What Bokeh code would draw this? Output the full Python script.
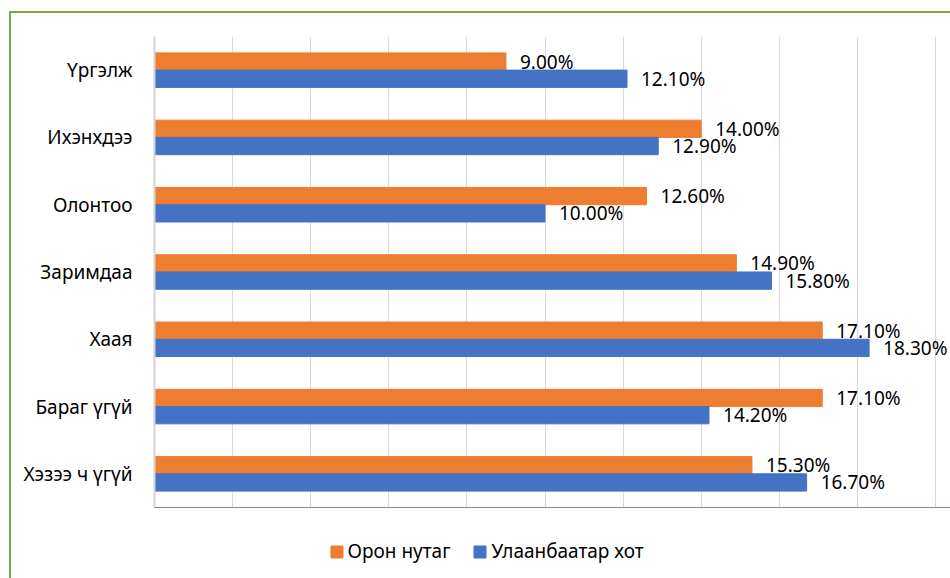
from bokeh.plotting import figure
from bokeh.layouts import column
from bokeh.models import (ColumnDataSource, FactorRange, Range1d, FixedTicker,
                          Legend, LegendItem)
from bokeh.transform import dodge
from bokeh.core.properties import value
from bokeh.embed import file_html
from bokeh.resources import INLINE

categories = ["Үргэлж", "Ихэнхдээ", "Олонтоо", "Заримдаа", "Хаая", "Бараг үгүй", "Хэзээ ч үгүй"]
rural = [9.0, 14.0, 12.6, 14.9, 17.1, 17.1, 15.3]      # Орон нутаг
ub = [12.1, 12.9, 10.0, 15.8, 18.3, 14.2, 16.7]        # Улаанбаатар хот
series_names = ["Орон нутаг", "Улаанбаатар хот"]
x_ticks = [0, 2, 4, 6, 8, 10, 12, 14, 16, 18, 20]

ORANGE = "#ED7D31"
BLUE = "#4472C4"
GREEN = "#70AD47"
FONT = "Noto Sans"
FS = "19px"

src = ColumnDataSource(dict(
    cat=categories,
    rural=rural,
    ub=ub,
    rural_lbl=[f"{v:.2f}%" for v in rural],
    ub_lbl=[f"{v:.2f}%" for v in ub],
))

# ---- main chart -------------------------------------------------------
p = figure(width=950, height=507,
           y_range=FactorRange(factors=list(reversed(categories))),
           x_range=Range1d(x_ticks[0], x_ticks[-1] * 796 / 781),
           output_backend="svg", toolbar_location=None,
           min_border_left=154, min_border_right=0,
           min_border_top=36, min_border_bottom=0)

r1 = p.hbar(y=dodge("cat", 0.128, range=p.y_range), left=0, right="rural",
            height=0.257, fill_color=ORANGE, line_color=ORANGE, source=src)
r2 = p.hbar(y=dodge("cat", -0.128, range=p.y_range), left=0, right="ub",
            height=0.257, fill_color=BLUE, line_color=BLUE, source=src)

p.text(x="rural", y=dodge("cat", 0.128, range=p.y_range), text="rural_lbl",
       x_offset=14, y_offset=0, text_baseline="middle", text_align="left",
       text_font=value(FONT), text_font_size=FS, text_color="black", source=src)
p.text(x="ub", y=dodge("cat", -0.128, range=p.y_range), text="ub_lbl",
       x_offset=14, y_offset=0, text_baseline="middle", text_align="left",
       text_font=value(FONT), text_font_size=FS, text_color="black", source=src)

p.xaxis.visible = False
p.yaxis.axis_line_color = "#D4D4D4"
p.yaxis.axis_line_width = 2
p.yaxis.major_tick_line_color = None
p.yaxis.minor_tick_line_color = None
p.yaxis.major_tick_out = 0
p.yaxis.major_tick_in = 0
p.yaxis.major_label_text_font = FONT
p.yaxis.major_label_text_font_size = FS
p.yaxis.major_label_text_color = "black"
p.yaxis.major_label_standoff = 22

p.ygrid.visible = False
p.xgrid.ticker = FixedTicker(ticks=x_ticks)
p.xgrid.grid_line_color = "#D9D9D9"
p.xgrid.grid_line_width = 1
p.outline_line_color = None
p.border_fill_alpha = 0

# ---- legend strip under the chart ------------------------------------
lg = figure(width=950, height=71, x_range=Range1d(0, 1), y_range=Range1d(0, 1),
            output_backend="svg", toolbar_location=None,
            min_border_left=0, min_border_right=0,
            min_border_top=0, min_border_bottom=0)
lg.axis.visible = False
lg.grid.visible = False
lg.outline_line_color = None
lg.border_fill_alpha = 0
lg.background_fill_alpha = 0
# legend swatches (the single point lies outside the visible range)
l1 = lg.hbar(y=[5], left=[0], right=[1], height=0.1, fill_color=ORANGE, line_color=ORANGE)
l2 = lg.hbar(y=[5], left=[0], right=[1], height=0.1, fill_color=BLUE, line_color=BLUE)

legend = Legend(items=[LegendItem(label=series_names[0], renderers=[l1]),
                       LegendItem(label=series_names[1], renderers=[l2])],
                orientation="horizontal", location=(174.5, 14),
                glyph_width=15, glyph_height=15, label_standoff=4, spacing=22,
                label_height=26,
                label_text_font=FONT, label_text_font_size=FS,
                label_text_color="black",
                border_line_color=None, background_fill_alpha=0,
                padding=0, margin=0)
lg.add_layout(legend, "center")

layout = column(p, lg, spacing=0, styles={
    "background": (f"linear-gradient({GREEN},{GREEN}) 9px 11px / 2px 100% no-repeat, "
                   f"linear-gradient({GREEN},{GREEN}) 9px 11px / 100% 2px no-repeat"),
})

open("out.html", "w").write(file_html(layout, INLINE))
